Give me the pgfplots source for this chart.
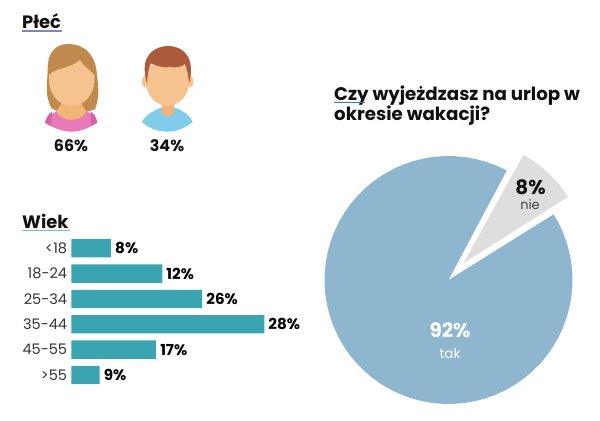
\documentclass[border=0pt]{standalone}
\usepackage{fontspec}
\setmainfont{Poppins}
\usepackage{pgfplots}
\pgfplotsset{compat=1.18}
\definecolor{barteal}{HTML}{3AA4B1}
\definecolor{pieblue}{HTML}{8FB6CF}
\definecolor{piegray}{HTML}{DEDEDE}
\definecolor{txt}{HTML}{111111}
\definecolor{hairw}{RGB}{192,138,78}
\definecolor{hairm}{RGB}{172,92,60}
\definecolor{skin}{RGB}{246,194,144}
\definecolor{neck}{RGB}{243,180,120}
\definecolor{pink}{RGB}{232,122,184}
\definecolor{pinkd}{RGB}{214,96,165}
\definecolor{shirt}{RGB}{128,204,234}
\newcommand{\fs}[1]{\fontsize{#1}{#1}\selectfont}
\begin{document}
\begin{tikzpicture}[x=1bp,y=1bp]
\path[use as bounding box] (0,0) rectangle (600,420);

% pie: blue part
\begin{axis}[at={(448.5bp,140bp)},anchor=center,scale only axis,width=300bp,height=300bp,
  xmin=-150,xmax=150,ymin=-150,ymax=150,hide axis,clip=false]
\addplot[draw=none,fill=pieblue,data cs=polar] coordinates {
(0,0)(62,124)(67,124)(72,124)(77,124)(82,124)(87,124)(92,124)(97,124)(102,124)(107,124)(112,124)(117,124)
(122,124)(127,124)(132,124)(137,124)(142,124)(147,124)(152,124)(157,124)(162,124)(167,124)(172,124)(177,124)
(182,124)(187,124)(192,124)(197,124)(202,124)(207,124)(212,124)(217,124)(222,124)(227,124)(232,124)(237,124)
(242,124)(247,124)(252,124)(257,124)(262,124)(267,124)(272,124)(277,124)(282,124)(287,124)(292,124)(297,124)
(302,124)(307,124)(312,124)(317,124)(322,124)(327,124)(332,124)(337,124)(342,124)(347,124)(352,124)(357,124)
(2,124)(7,124)(12,124)(17,124)(22,124)(27,124)(32,124)(0,0)} \closedcycle;
\end{axis}
% pie: pulled out part
\begin{axis}[at={(463.3bp,156.7bp)},anchor=center,scale only axis,width=300bp,height=300bp,
  xmin=-150,xmax=150,ymin=-150,ymax=150,hide axis,clip=false]
\addplot[draw=none,fill=piegray,data cs=polar] coordinates {
(0,0)(32.4,124)(36,124)(40,124)(44,124)(48,124)(52,124)(56,124)(61,124)(0,0)} \closedcycle;
\end{axis}

% age bars
\begin{axis}[at={(71.3bp,184.4bp)},anchor=north west,scale only axis,width=241.2bp,height=152bp,
  xbar,bar width=18.3bp,bar shift=0pt,xmin=0,xmax=35,ymin=-0.5,ymax=5.5,y dir=reverse,
  axis line style={draw=none},major tick length=0pt,xtick=\empty,
  ytick={0,1,2,3,4,5},yticklabels={<18,18-24,25-34,35-44,45-55,>55},
  yticklabel style={font=\fs{14.6},text=txt!85,inner sep=0pt,xshift=-4bp},
  point meta=explicit symbolic,nodes near coords,
  nodes near coords style={font=\bfseries\fs{15.2},text=black,inner sep=0pt,xshift=4bp,anchor=west},
  clip=false]
\addplot[draw=none,fill=barteal] coordinates {
(5.76,0) [8\%]
(13.2,1) [12\%]
(19.0,2) [26\%]
(28.0,3) [28\%]
(12.3,4) [17\%]
(4.1,5) [9\%]};
\end{axis}

% headings
\node[anchor=base west,inner sep=0pt,font=\bfseries\fs{18},text=txt] at (22,391.7) {Płeć};
\draw[color=blue!40!gray!70,line width=1bp] (22,389) -- (62,389);
\node[anchor=base west,inner sep=0pt,font=\bfseries\fs{18},text=txt] at (22,191.7) {Wiek};
\draw[color=barteal!70,line width=1bp] (22,189.6) -- (70,189.6);
\node[anchor=base west,inner sep=0pt,font=\bfseries\fs{18.3},text=txt] at (334,319.3) {Czy wyjeżdzasz na urlop w};
\node[anchor=base west,inner sep=0pt,font=\bfseries\fs{18.3},text=txt] at (334,299.5) {okresie wakacji?};
\draw[color=barteal!80!blue,line width=1bp] (334,317.7) -- (365,317.7);

% people icons, drawn in zoomed picture units
\begin{scope}[shift={(0,420)},x=0.3333bp,y=-0.3333bp]
 % woman
 \fill[hairw] (205,132) .. controls (165,132) and (143,160) .. (143,205)
   .. controls (143,250) and (132,285) .. (155,325) -- (175,335) -- (262,335) -- (285,328)
   .. controls (302,285) and (293,250) .. (290,215) .. controls (284,160) and (250,132) .. (205,132) -- cycle;
 \fill[pink] (135,368) .. controls (145,345) and (165,335) .. (185,328) -- (245,328)
   .. controls (265,335) and (285,345) .. (292,368) .. controls (265,385) and (240,395) .. (215,395)
   .. controls (190,395) and (160,385) .. (135,368) -- cycle;
 \fill[pinkd] (135,368) .. controls (140,350) and (147,340) .. (157,335) -- (153,378) -- cycle;
 \fill[pinkd] (292,368) .. controls (288,350) and (282,340) .. (272,335) -- (273,378) -- cycle;
 \fill[neck] (170,332) .. controls (175,368) and (255,368) .. (258,332) -- (240,305) -- (188,305) -- cycle;
 \fill[skin] (148,225) .. controls (160,205) and (215,205) .. (240,180)
   .. controls (250,200) and (272,210) .. (283,225) .. controls (288,280) and (255,318) .. (215,318)
   .. controls (175,318) and (142,280) .. (148,225) -- cycle;
 % man
 \fill[shirt] (426,366) .. controls (435,345) and (465,330) .. (485,322) -- (522,322)
   .. controls (545,330) and (570,345) .. (578,366) .. controls (555,385) and (530,395) .. (502,395)
   .. controls (475,395) and (445,385) .. (426,366) -- cycle;
 \fill[neck] (485,310) -- (522,310) -- (522,335) .. controls (515,355) and (492,355) .. (485,335) -- cycle;
 \fill[skin] (436,245) ellipse[x radius=10,y radius=18];
 \fill[skin] (570,245) ellipse[x radius=10,y radius=18];
 \fill[skin] (440,195) -- (566,195) -- (566,260)
   .. controls (560,295) and (530,318) .. (503,318) .. controls (475,318) and (445,295) .. (440,260) -- cycle;
 \fill[hairm] (505,138) .. controls (465,138) and (433,165) .. (434,205)
   .. controls (434,225) and (438,240) .. (441,250) .. controls (443,225) and (445,205) .. (452,190)
   .. controls (475,200) and (500,205) .. (508,200) .. controls (530,205) and (545,200) .. (555,192)
   .. controls (562,210) and (566,230) .. (567,250) .. controls (572,235) and (574,220) .. (572,195)
   .. controls (568,160) and (540,138) .. (505,138) -- cycle;
\end{scope}
\node[font=\bfseries\fs{16},text=txt,inner sep=0pt] at (71,274.5) {66\%};
\node[font=\bfseries\fs{16},text=txt,inner sep=0pt] at (167,274.5) {34\%};

% pie labels
\node[font=\bfseries\fs{20},text=white,inner sep=0pt] at (450,90) {92\%};
\node[font=\fs{13.5},text=white,inner sep=0pt] at (450,66) {tak};
\node[font=\bfseries\fs{20},text=txt,inner sep=0pt] at (530.5,233) {8\%};
\node[font=\fs{13},text=txt!80,inner sep=0pt] at (530,215) {nie};
\end{tikzpicture}
\end{document}
